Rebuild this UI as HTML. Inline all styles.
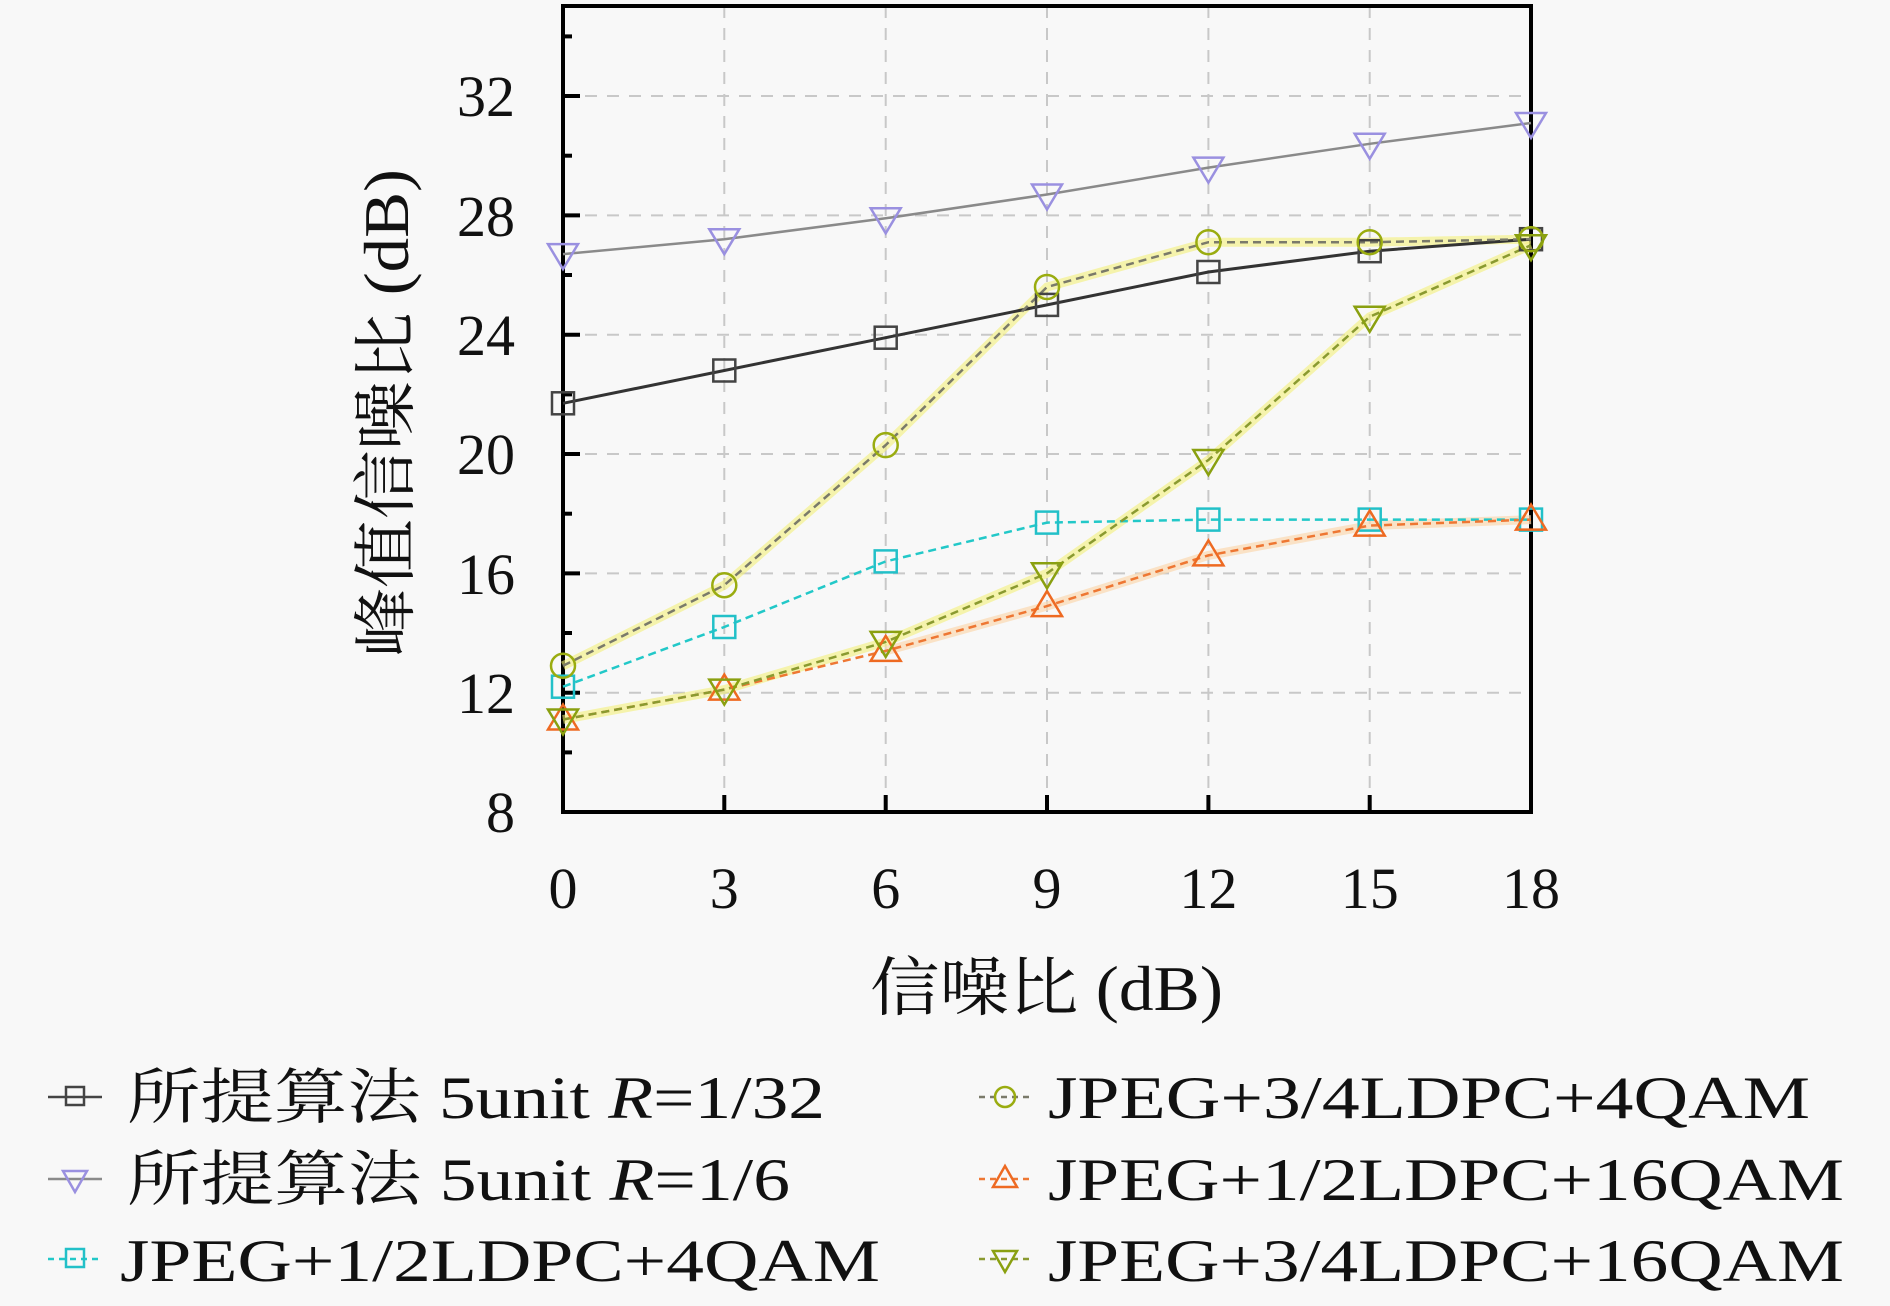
<!DOCTYPE html>
<html><head><meta charset="utf-8"><style>
html,body{margin:0;padding:0;background:#f8f8f8;}
svg{display:block}
text{font-family:"Liberation Serif","Noto Serif CJK SC","Noto Sans CJK SC",serif;fill:#111}
</style></head><body>
<svg width="1890" height="1306" viewBox="0 0 1890 1306" xmlns="http://www.w3.org/2000/svg">
<rect width="1890" height="1306" fill="#f8f8f8"/>
<g stroke="#c8c8c8" stroke-width="2" stroke-dasharray="12,10" fill="none">
<line x1="724.3" y1="6" x2="724.3" y2="812"/><line x1="885.7" y1="6" x2="885.7" y2="812"/>
<line x1="1047" y1="6" x2="1047" y2="812"/><line x1="1208.4" y1="6" x2="1208.4" y2="812"/>
<line x1="1369.7" y1="6" x2="1369.7" y2="812"/>
<line x1="563" y1="692.7" x2="1531" y2="692.7"/><line x1="563" y1="573.4" x2="1531" y2="573.4"/>
<line x1="563" y1="454" x2="1531" y2="454"/><line x1="563" y1="334.7" x2="1531" y2="334.7"/>
<line x1="563" y1="215.4" x2="1531" y2="215.4"/><line x1="563" y1="96" x2="1531" y2="96"/>
</g>
<g stroke="#000" stroke-width="4">
<line x1="563" y1="812" x2="573" y2="812"/>
<line x1="563" y1="692.7" x2="580" y2="692.7"/><line x1="563" y1="573.4" x2="580" y2="573.4"/>
<line x1="563" y1="454" x2="580" y2="454"/><line x1="563" y1="334.7" x2="580" y2="334.7"/>
<line x1="563" y1="215.4" x2="580" y2="215.4"/><line x1="563" y1="96" x2="580" y2="96"/>
<line x1="563" y1="752.4" x2="572" y2="752.4"/><line x1="563" y1="633" x2="572" y2="633"/>
<line x1="563" y1="513.7" x2="572" y2="513.7"/><line x1="563" y1="394.4" x2="572" y2="394.4"/>
<line x1="563" y1="275" x2="572" y2="275"/><line x1="563" y1="155.7" x2="572" y2="155.7"/>
<line x1="563" y1="36.4" x2="572" y2="36.4"/>
<line x1="724.3" y1="812" x2="724.3" y2="795"/><line x1="885.7" y1="812" x2="885.7" y2="795"/>
<line x1="1047" y1="812" x2="1047" y2="795"/><line x1="1208.4" y1="812" x2="1208.4" y2="795"/>
<line x1="1369.7" y1="812" x2="1369.7" y2="795"/>
</g>
<rect x="563" y="6" width="968" height="806" fill="none" stroke="#000" stroke-width="4"/>
<polyline points="563,665.8 724.3,585.2 885.7,445.1 1047,287 1208.4,242.2 1369.7,242.2 1531,239.2" fill="none" stroke="#f4f07a" stroke-width="9" opacity="0.6"/>
<polyline points="563,719.5 724.3,689.6 885.7,641.9 1047,573.3 1208.4,460 1369.7,316.8 1531,245.2" fill="none" stroke="#f4f07a" stroke-width="9" opacity="0.6"/>
<polyline points="885.7,650.9 1047,606.1 1208.4,555.4 1369.7,525.6 1531,519.6" fill="none" stroke="#fbd9b0" stroke-width="9" opacity="0.7"/>
<polyline points="563,254.1 724.3,239.2 885.7,218.3 1047,194.5 1208.4,167.6 1369.7,143.8 1531,123" fill="none" stroke="#8a8a8a" stroke-width="2.5"/>
<polyline points="563,403.3 724.3,370.5 885.7,337.7 1047,304.9 1208.4,272 1369.7,251.2 1531,239.2" fill="none" stroke="#333" stroke-width="3"/>
<polyline points="563,686.7 724.3,627 885.7,561.4 1047,522.6 1208.4,519.6 1369.7,519.6 1531,519.6" fill="none" stroke="#22c8c8" stroke-width="2.5" stroke-dasharray="8,5"/>
<polyline points="563,665.8 724.3,585.2 885.7,445.1 1047,287 1208.4,242.2 1369.7,242.2 1531,239.2" fill="none" stroke="#7a7a6a" stroke-width="2.5" stroke-dasharray="8,5"/>
<polyline points="563,719.5 724.3,689.6 885.7,650.9 1047,606.1 1208.4,555.4 1369.7,525.6 1531,519.6" fill="none" stroke="#ee7733" stroke-width="2.5" stroke-dasharray="8,5"/>
<polyline points="563,719.5 724.3,689.6 885.7,641.9 1047,573.3 1208.4,460 1369.7,316.8 1531,245.2" fill="none" stroke="#8a9a30" stroke-width="2.5" stroke-dasharray="8,5"/>
<defs>
<rect id="sq" x="-11" y="-11" width="22" height="22"/>
<path id="dt" d="M-15,-10 L15,-10 L0,15 Z"/>
<path id="ut" d="M-15,10 L15,10 L0,-15 Z"/>
<circle id="ci" r="12"/>
</defs>
<g fill="none" stroke="#9a90e0" stroke-width="2.5">
<use href="#dt" x="563" y="254.1"/><use href="#dt" x="724.3" y="239.2"/><use href="#dt" x="885.7" y="218.3"/><use href="#dt" x="1047" y="194.5"/><use href="#dt" x="1208.4" y="167.6"/><use href="#dt" x="1369.7" y="143.8"/><use href="#dt" x="1531" y="123"/>
</g>
<g fill="none" stroke="#444" stroke-width="2.5">
<use href="#sq" x="563" y="403.3"/><use href="#sq" x="724.3" y="370.5"/><use href="#sq" x="885.7" y="337.7"/><use href="#sq" x="1047" y="304.9"/><use href="#sq" x="1208.4" y="272"/><use href="#sq" x="1369.7" y="251.2"/><use href="#sq" x="1531" y="239.2"/>
</g>
<g fill="none" stroke="#22c0c8" stroke-width="2.5">
<use href="#sq" x="563" y="686.7"/><use href="#sq" x="724.3" y="627"/><use href="#sq" x="885.7" y="561.4"/><use href="#sq" x="1047" y="522.6"/><use href="#sq" x="1208.4" y="519.6"/><use href="#sq" x="1369.7" y="519.6"/><use href="#sq" x="1531" y="519.6"/>
</g>
<g fill="none" stroke="#9aac10" stroke-width="2.5">
<use href="#ci" x="563" y="665.8"/><use href="#ci" x="724.3" y="585.2"/><use href="#ci" x="885.7" y="445.1"/><use href="#ci" x="1047" y="287"/><use href="#ci" x="1208.4" y="242.2"/><use href="#ci" x="1369.7" y="242.2"/><use href="#ci" x="1531" y="239.2"/>
</g>
<g fill="none" stroke="#ee6a22" stroke-width="2.5">
<use href="#ut" x="563" y="719.5"/><use href="#ut" x="724.3" y="689.6"/><use href="#ut" x="885.7" y="650.9"/><use href="#ut" x="1047" y="606.1"/><use href="#ut" x="1208.4" y="555.4"/><use href="#ut" x="1369.7" y="525.6"/><use href="#ut" x="1531" y="519.6"/>
</g>
<g fill="none" stroke="#8aa010" stroke-width="2.5">
<use href="#dt" x="563" y="719.5"/><use href="#dt" x="724.3" y="689.6"/><use href="#dt" x="885.7" y="641.9"/><use href="#dt" x="1047" y="573.3"/><use href="#dt" x="1208.4" y="460"/><use href="#dt" x="1369.7" y="316.8"/><use href="#dt" x="1531" y="245.2"/>
</g>
<g font-size="58" text-anchor="end">
<text x="515" y="832">8</text><text x="515" y="713">12</text><text x="515" y="594">16</text>
<text x="515" y="474">20</text><text x="515" y="355">24</text><text x="515" y="236">28</text><text x="515" y="116">32</text>
</g>
<g font-size="58" text-anchor="middle">
<text x="563" y="908">0</text><text x="724.3" y="908">3</text><text x="885.7" y="908">6</text>
<text x="1047" y="908">9</text><text x="1208.4" y="908">12</text><text x="1369.7" y="908">15</text><text x="1531" y="908">18</text>
</g>
<text x="870" y="1010" font-size="64" textLength="353" lengthAdjust="spacingAndGlyphs">信噪比 (dB)</text>
<text transform="translate(408,657) rotate(-90)" font-size="64" textLength="488" lengthAdjust="spacingAndGlyphs">峰值信噪比 (dB)</text>
<g stroke-width="2.5" fill="none">
<line x1="48" y1="1097" x2="102" y2="1097" stroke="#444"/><rect x="66" y="1087" width="18" height="18" stroke="#444"/>
<line x1="48" y1="1179" x2="102" y2="1179" stroke="#8a8a8a"/><path d="M63,1171 L87,1171 L75,1192 Z" stroke="#9a90e0"/>
<line x1="48" y1="1259" x2="102" y2="1259" stroke="#22c8c8" stroke-dasharray="6,5"/><rect x="66" y="1249" width="18" height="18" stroke="#22c0c8"/>
<line x1="979" y1="1097" x2="1030" y2="1097" stroke="#7a7a6a" stroke-dasharray="6,5"/><circle cx="1005" cy="1097" r="10" stroke="#9aac10"/>
<line x1="979" y1="1179" x2="1030" y2="1179" stroke="#ee7733" stroke-dasharray="6,5"/><path d="M993,1187 L1017,1187 L1005,1166 Z" stroke="#ee6a22"/>
<line x1="979" y1="1259" x2="1030" y2="1259" stroke="#8a9a30" stroke-dasharray="6,5"/><path d="M993,1251 L1017,1251 L1005,1272 Z" stroke="#8aa010"/>
</g>
<g font-size="60">
<text x="127" y="1118" textLength="698" lengthAdjust="spacingAndGlyphs">所提算法 5unit <tspan font-style="italic">R</tspan>=1/32</text>
<text x="127" y="1200" textLength="663" lengthAdjust="spacingAndGlyphs">所提算法 5unit <tspan font-style="italic">R</tspan>=1/6</text>
<text x="120" y="1281" textLength="760" lengthAdjust="spacingAndGlyphs">JPEG+1/2LDPC+4QAM</text>
<text x="1048" y="1118" textLength="762" lengthAdjust="spacingAndGlyphs">JPEG+3/4LDPC+4QAM</text>
<text x="1048" y="1200" textLength="796" lengthAdjust="spacingAndGlyphs">JPEG+1/2LDPC+16QAM</text>
<text x="1048" y="1281" textLength="796" lengthAdjust="spacingAndGlyphs">JPEG+3/4LDPC+16QAM</text>
</g>
</svg>
</body></html>
